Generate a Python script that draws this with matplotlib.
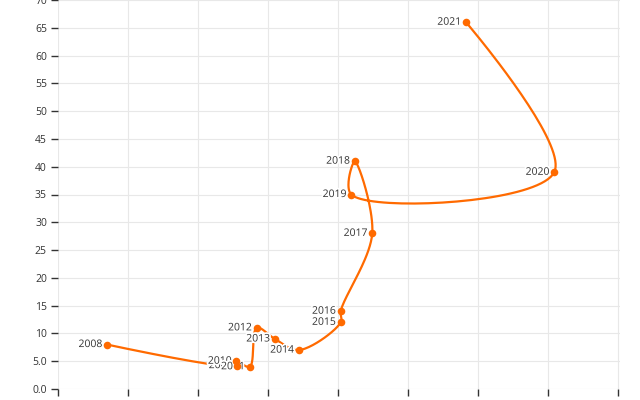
import numpy as np
import matplotlib
matplotlib.use("Agg")
import matplotlib.pyplot as plt
import matplotlib.patheffects as pe

years = ["2008", "2009", "2010", "2011", "2012", "2013", "2014",
         "2015", "2016", "2017", "2018", "2019", "2020", "2021"]
x_vals = [0.70, 2.56, 2.55, 2.74, 2.84, 3.10, 3.44,
          4.04, 4.04, 4.49, 4.24, 4.19, 7.09, 5.83]
y_vals = [8, 4.2, 5, 4, 11, 9, 7, 12, 14, 28, 41, 35, 39, 66]
y_ticks = list(range(0, 75, 5))
x_ticks = list(range(0, 9))

ORANGE = "#ff6a00"
TEXT = "#333333"
GRID = "#e8e8e8"

fig = plt.figure(figsize=(6.4, 4.0), dpi=100)
ax = fig.add_axes([58 / 640, 11 / 400, (620 - 58) / 640, 389 / 400])
ax.set_xlim(0, 8.03)
ax.set_ylim(0, 70)

# centripetal Catmull-Rom smoothing in pixel-like space
sx = 560 / 8.0
sy = 389 / 70.0
P = np.column_stack([np.array(x_vals) * sx, np.array(y_vals) * sy])
pts = [P[0]]
n = len(P)
for i in range(n - 1):
    p0 = P[i - 1] if i > 0 else P[i]
    p1 = P[i]
    p2 = P[i + 1]
    p3 = P[i + 2] if i + 2 < n else P[i + 1]
    d1 = np.linalg.norm(p1 - p0) ** 0.5
    d2 = np.linalg.norm(p2 - p1) ** 0.5
    d3 = np.linalg.norm(p3 - p2) ** 0.5
    t = np.linspace(0, 1, 40)[1:]
    t0 = 0.0
    t1 = t0 + max(d1, 1e-6)
    t2 = t1 + max(d2, 1e-6)
    t3 = t2 + max(d3, 1e-6)
    tt = (t1 + t * (t2 - t1))[:, None]
    A1 = (t1 - tt) / (t1 - t0) * p0 + (tt - t0) / (t1 - t0) * p1
    A2 = (t2 - tt) / (t2 - t1) * p1 + (tt - t1) / (t2 - t1) * p2
    A3 = (t3 - tt) / (t3 - t2) * p2 + (tt - t2) / (t3 - t2) * p3
    B1 = (t2 - tt) / (t2 - t0) * A1 + (tt - t0) / (t2 - t0) * A2
    B2 = (t3 - tt) / (t3 - t1) * A2 + (tt - t1) / (t3 - t1) * A3
    C = (t2 - tt) / (t2 - t1) * B1 + (tt - t1) / (t2 - t1) * B2
    pts.extend(C)
pts = np.array(pts)
ax.plot(pts[:, 0] / sx, pts[:, 1] / sy, color=ORANGE, lw=1.6, zorder=3,
        solid_capstyle="round")

for xv, yv, yr in zip(x_vals, y_vals, years):
    ax.annotate(yr, (xv, yv), xytext=(-3.5, 0), textcoords="offset points",
                ha="right", va="center", fontsize=7.5, color=TEXT,
                family="Open Sans", zorder=4,
                path_effects=[pe.withStroke(linewidth=2.5, foreground="white")])
ax.scatter(x_vals, y_vals, s=30, color=ORANGE, zorder=5, linewidths=0)

ax.set_yticks(y_ticks)
ax.set_yticklabels([f"{v:.1f}" if v < 10 else f"{v}" for v in y_ticks],
                   family="Open Sans", fontsize=7.5, color=TEXT)
ax.set_xticks(x_ticks)
ax.set_xticklabels([])
ax.tick_params(axis="both", length=5, width=1, color=TEXT, pad=3)
ax.grid(True, color=GRID, lw=0.8)
ax.set_axisbelow(True)
for s in ax.spines.values():
    s.set_visible(False)

fig.savefig("out.png", dpi=100)
